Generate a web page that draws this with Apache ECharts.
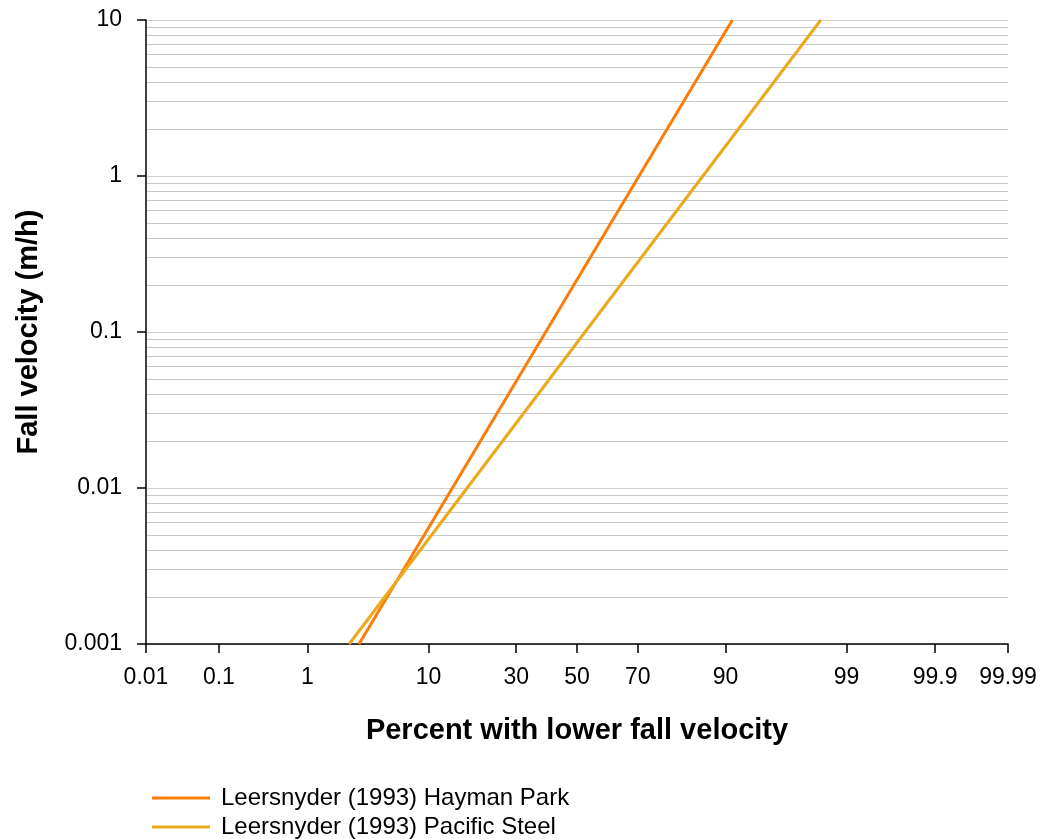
<!DOCTYPE html>
<html><head><meta charset="utf-8">
<script src="https://cdn.jsdelivr.net/npm/echarts@6/dist/echarts.min.js"></script>
<style>html,body{margin:0;padding:0;background:#fff}#c{width:1041px;height:839px}</style>
</head><body><div id="c"></div>
<script>
// Data (percent with lower fall velocity, fall velocity m/h)
var xTickPercents = [0.01, 0.1, 1, 10, 30, 50, 70, 90, 99, 99.9, 99.99];
var xTickLabels = ['0.01', '0.1', '1', '10', '30', '50', '70', '90', '99', '99.9', '99.99'];
var yMinorValues = [0.002,0.003,0.004,0.005,0.006,0.007,0.008,0.009,
  0.02,0.03,0.04,0.05,0.06,0.07,0.08,0.09,
  0.2,0.3,0.4,0.5,0.6,0.7,0.8,0.9,
  2,3,4,5,6,7,8,9];
var seriesNames = ['Leersnyder (1993) Hayman Park', 'Leersnyder (1993) Pacific Steel'];
var haymanPercent = [3.0, 91.0];
var haymanVelocity = [0.001, 10];
var pacificPercent = [2.47, 98.23];
var pacificVelocity = [0.001, 10];

// probability scale transform (inverse standard normal CDF)
function probit(pc) {
  var p = pc / 100;
  var a = [-3.969683028665376e+01, 2.209460984245205e+02, -2.759285104469687e+02, 1.383577518672690e+02, -3.066479806614716e+01, 2.506628277459239e+00];
  var b = [-5.447609879822406e+01, 1.615858368580409e+02, -1.556989798598866e+02, 6.680131188771972e+01, -1.328068155288572e+01];
  var c = [-7.784894002430293e-03, -3.223964580411365e-01, -2.400758277161838e+00, -2.549732539343734e+00, 4.374664141464968e+00, 2.938163982698783e+00];
  var d = [7.784695709041462e-03, 3.224671290700398e-01, 2.445134137142996e+00, 3.754408661907416e+00];
  var pl = 0.02425, q, r;
  if (p < pl) { q = Math.sqrt(-2 * Math.log(p)); return (((((c[0]*q+c[1])*q+c[2])*q+c[3])*q+c[4])*q+c[5]) / ((((d[0]*q+d[1])*q+d[2])*q+d[3])*q+1); }
  if (p > 1 - pl) { q = Math.sqrt(-2 * Math.log(1 - p)); return -(((((c[0]*q+c[1])*q+c[2])*q+c[3])*q+c[4])*q+c[5]) / ((((d[0]*q+d[1])*q+d[2])*q+d[3])*q+1); }
  q = p - 0.5; r = q * q;
  return (((((a[0]*r+a[1])*r+a[2])*r+a[3])*r+a[4])*r+a[5])*q / (((((b[0]*r+b[1])*r+b[2])*r+b[3])*r+b[4])*r+1);
}
var xTickZ = xTickPercents.map(probit);
function zip(ps, vs) { return ps.map(function (p, i) { return [probit(p), vs[i]]; }); }

var font = 'Liberation Sans, Arial, sans-serif';
var colors = ['#fa7d0a', '#eba91c'];
function legendFor(i, top) {
  return {
    orient: 'vertical', left: 152, top: top, itemWidth: 58, itemHeight: 3, icon: 'rect',
    padding: 0, data: [seriesNames[i]],
    textStyle: {fontFamily: font, fontSize: 24, color: '#000', padding: [0, 0, 0, 6]}
  };
}
var chart = echarts.init(document.getElementById('c'), null, {renderer: 'canvas'});
chart.setOption({
  animation: false,
  textStyle: {fontFamily: font},
  grid: {left: 146, right: 33, top: 20, bottom: 195, containLabel: false},
  legend: [legendFor(0, 786), legendFor(1, 815)],
  xAxis: {
    type: 'value', min: xTickZ[0], max: xTickZ[xTickZ.length - 1],
    name: 'Percent with lower fall velocity', nameLocation: 'middle', nameGap: 72,
    nameTextStyle: {fontFamily: font, fontSize: 29, fontWeight: 'bold', color: '#000'},
    axisLine: {show: true, onZero: false, lineStyle: {color: '#000', width: 1.5}},
    axisTick: {show: true, length: 9, customValues: xTickZ, lineStyle: {color: '#000', width: 1.5}},
    axisLabel: {customValues: xTickZ, margin: 22, fontSize: 23, color: '#000', fontFamily: font,
      formatter: function (v) {
        var best = 0;
        for (var i = 0; i < xTickZ.length; i++) if (Math.abs(xTickZ[i] - v) < Math.abs(xTickZ[best] - v)) best = i;
        return xTickLabels[best];
      }},
    splitLine: {show: false}
  },
  yAxis: [{
    type: 'log', logBase: 10, min: 0.001, max: 10,
    name: 'Fall velocity (m/h)', nameLocation: 'middle', nameGap: 103,
    nameTextStyle: {fontFamily: font, fontSize: 29, fontWeight: 'bold', color: '#000'},
    axisLine: {show: true, onZero: false, lineStyle: {color: '#000', width: 1.5}},
    axisTick: {show: true, length: 9, lineStyle: {color: '#000', width: 1.5}},
    axisLabel: {margin: 24, fontSize: 23, color: '#000', fontFamily: font,
      formatter: function (v) { return String(+v.toPrecision(3)); }},
    splitLine: {show: true, lineStyle: {color: '#d0d0d0', width: 1}}
  }, {
    type: 'log', logBase: 10, min: 0.001, max: 10, position: 'left',
    axisLine: {show: false, onZero: false},
    axisTick: {show: false, customValues: yMinorValues},
    axisLabel: {show: false, customValues: yMinorValues},
    splitLine: {show: true, lineStyle: {color: '#c8c8c8', width: 1}}
  }],
  series: [{
    name: seriesNames[0], type: 'line', symbol: 'none', data: zip(haymanPercent, haymanVelocity),
    lineStyle: {color: colors[0], width: 3}, itemStyle: {color: colors[0]}, z: 3
  }, {
    name: seriesNames[1], type: 'line', symbol: 'none', data: zip(pacificPercent, pacificVelocity),
    lineStyle: {color: colors[1], width: 3}, itemStyle: {color: colors[1]}, z: 4
  }]
});
</script>
</body></html>
